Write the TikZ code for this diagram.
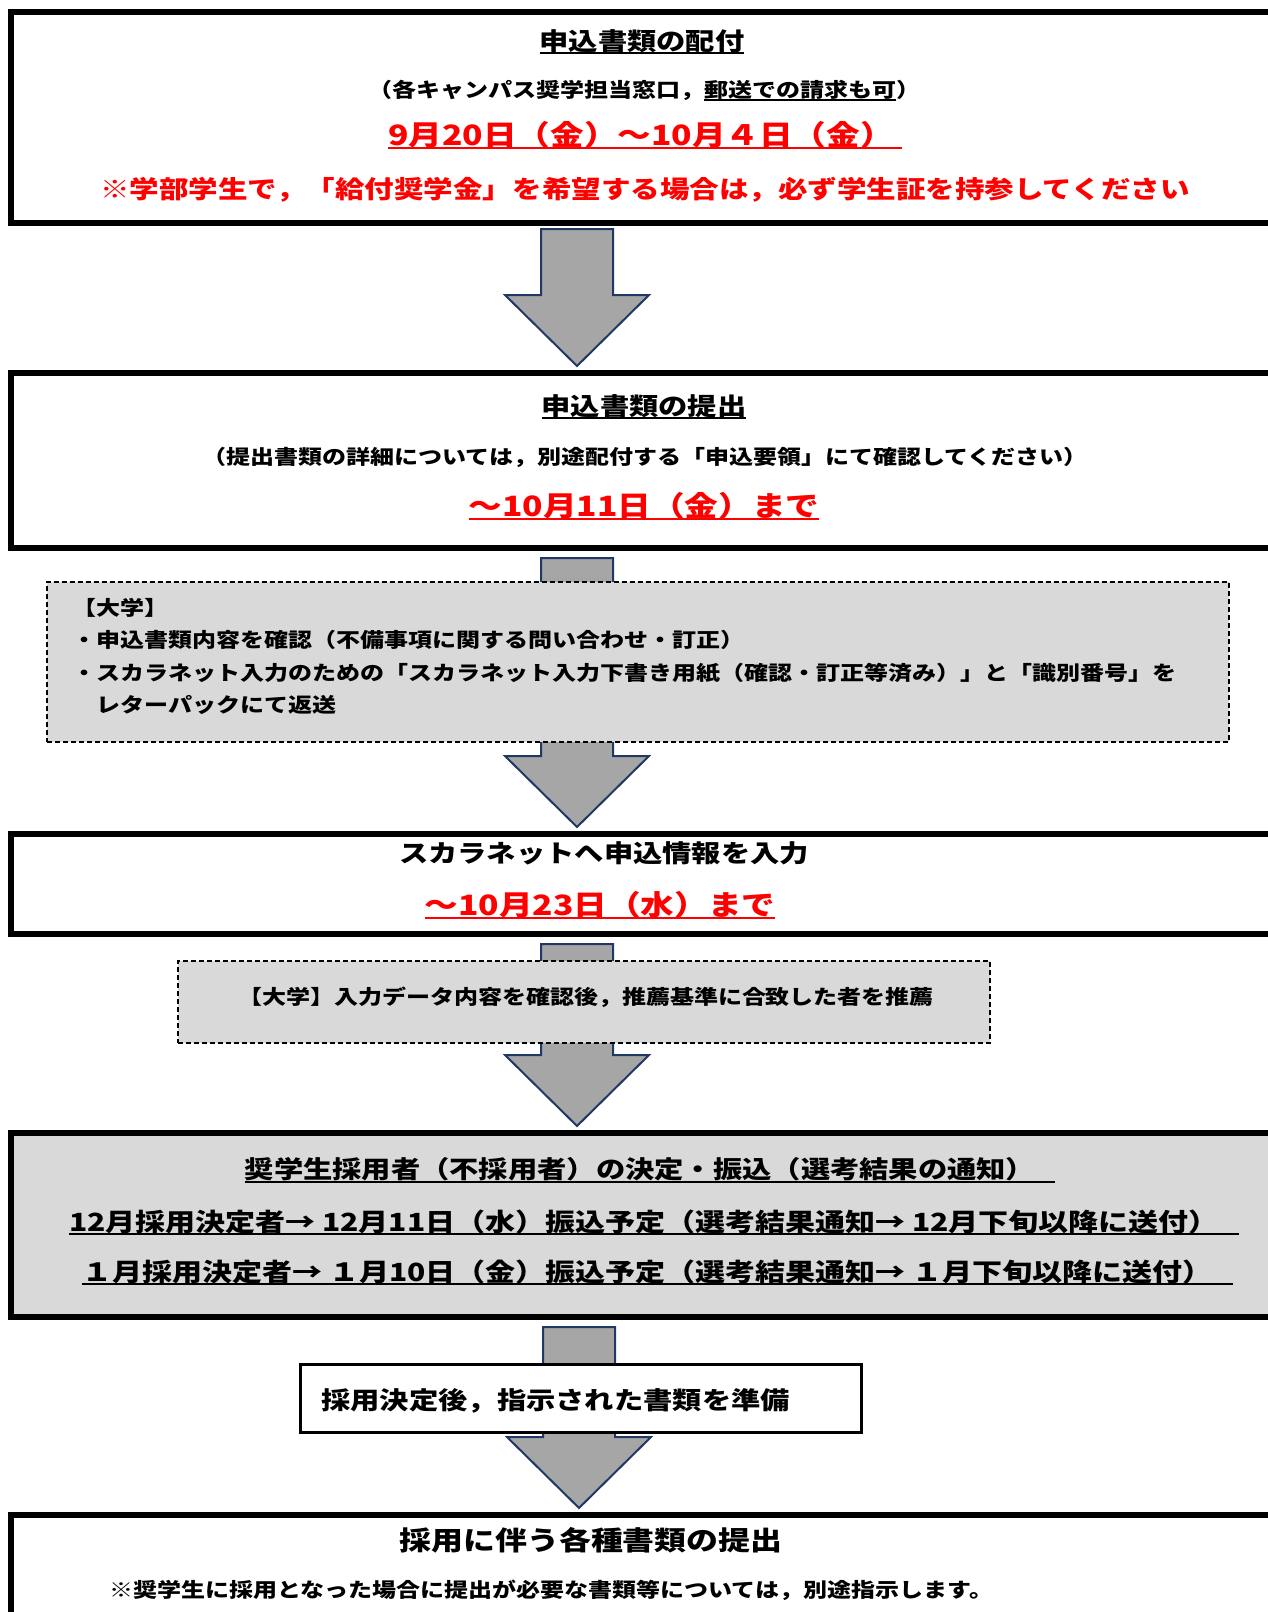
\documentclass[tikz,border=0pt]{standalone}
\usepackage{fontspec}
\setmainfont{Noto Sans CJK JP}[FakeStretch=1.2]
\usetikzlibrary{calc}
\definecolor{arrowgray}{HTML}{A6A6A6}
\definecolor{arrowline}{HTML}{203864}
\definecolor{panelgray}{HTML}{D9D9D9}
\newcommand\ul[2][0pt]{\setbox0\hbox{#2\hspace{#1}}\rlap{\rule[-0.16em]{\wd0}{0.08em}}\box0}
\newcommand\sizeS{\fontsize{10pt}{12pt}\selectfont}
\newcommand\sizeM{\fontsize{12.2pt}{14pt}\selectfont}
\newcommand\sizeR{\fontsize{12.3pt}{14pt}\selectfont}
\newcommand\sizeB{\fontsize{12.5pt}{15pt}\selectfont}
\newcommand\sizeT{\fontsize{13.3pt}{16pt}\selectfont}
\newcommand\sizeL{\fontsize{14pt}{17pt}\selectfont}
\newcommand\flowarrow[4][3.5pt]{\filldraw[blockarrow] let \p1=(#3.south), \p2=(#4.north), \p3=(#2,0) in (\x3-18pt,\y1-#1) -- (\x3+18pt,\y1-#1) -- (\x3+18pt,\y2+37.5pt) -- (\x3+36pt,\y2+37.5pt) -- (\x3,\y2+2pt) -- (\x3-36pt,\y2+37.5pt) -- (\x3-18pt,\y2+37.5pt) -- cycle;}
\begin{document}
\begin{tikzpicture}[x=0.5pt, y=-0.5pt, font=\bfseries, line join=miter,
		mainbox/.style={draw, line width=3pt, fill=white, minimum width=639.5pt, inner sep=0pt},
		notebox/.style={draw, dash pattern=on 2.5pt off 1.5pt, line width=1pt, fill=panelgray, inner sep=0pt},
		smallbox/.style={draw, line width=1.5pt, fill=white, inner sep=0pt},
		blockarrow/.style={draw=arrowline, line width=1pt, fill=arrowgray},
		txt/.style={inner sep=0pt, anchor=base},
		txtl/.style={inner sep=0pt, anchor=base west}]
	\useasboundingbox (0,0) rectangle (1268,1612);
	\clip (0,0) rectangle (1268,1612);
	\node[mainbox, minimum height=105.5pt] (haifu) at (650.5,117.5) {};
	\node[mainbox, minimum height=87.5pt] (teishutsu) at (650.5,460.5) {};
	\node[mainbox, minimum height=50pt] (nyuryoku) at (650.5,884) {};
	\node[mainbox, minimum height=92pt, fill=panelgray] (kettei) at (650.5,1225) {};
	\node[mainbox, minimum height=92.5pt] (shorui) at (650.5,1607.5) {};
	\flowarrow[1.5pt]{577}{haifu}{teishutsu}
	\flowarrow{577}{teishutsu}{nyuryoku}
	\flowarrow{577}{nyuryoku}{kettei}
	\flowarrow{579}{kettei}{shorui}
	\node[notebox, minimum width=591pt, minimum height=80pt] (kakunin) at (638,662) {};
	\node[notebox, minimum width=406pt, minimum height=41pt] (suisen) at (584,1002) {};
	\node[smallbox, minimum width=280.5pt, minimum height=34pt] (junbi) at (580.5,1398) {};
	\node[txt] (haifu-t) at (642,50.5) {\sizeM\ul{申込書類の配付}};
	\node[txt] (haifu-s) at (644,97.6) {\sizeS（各キャンパス奨学担当窓口，\ul{郵送での請求も可}）};
	\node[txt, red] (haifu-d) at (645,145) {\sizeL\ul[4pt]{9月20日（金）～10月４日（金）}};
	\node[txt, red] (haifu-n) at (645,198) {\sizeR※学部学生で，「給付奨学金」を希望する場合は，必ず学生証を持参してください};
	\node[txt] (teishutsu-t) at (644,415) {\sizeM\ul{申込書類の提出}};
	\node[txt] (teishutsu-s) at (645,464.6) {\sizeS（提出書類の詳細については，別途配付する「申込要領」にて確認してください）};
	\node[txt, red] (teishutsu-d) at (644,516) {\sizeL\ul{～10月11日（金）まで}};
	\node[txtl] (kakunin-1) at (72,615.6) {\sizeS【大学】};
	\node[txtl] (kakunin-2) at (72,647.6) {\sizeS・申込書類内容を確認（不備事項に関する問い合わせ・訂正）};
	\node[txtl] (kakunin-3) at (72,680.6) {\sizeS・スカラネット入力のための「スカラネット入力下書き用紙（確認・訂正等済み）」と「識別番号」を};
	\node[txtl] (kakunin-4) at (72,712.6) {\sizeS\phantom{・}レターパックにて返送};
	\node[txt] (nyuryoku-t) at (604,862) {\sizeM スカラネットへ申込情報を入力};
	\node[txt, red] (nyuryoku-d) at (600,915) {\sizeL\ul{～10月23日（水）まで}};
	\node[txt] (suisen-t) at (586,1004.6) {\sizeS【大学】入力データ内容を確認後，推薦基準に合致した者を推薦};
	\node[txt] (kettei-t) at (650,1178.7) {\sizeM\ul[10pt]{奨学生採用者（不採用者）の決定・振込（選考結果の通知）}};
	\node[txt] (kettei-1) at (654,1231) {\sizeB\ul[10pt]{12月採用決定者→ 12月11日（水）振込予定（選考結果通知→ 12月下旬以降に送付）}};
	\node[txt] (kettei-2) at (657.5,1281) {\sizeB\ul[10pt]{１月採用決定者→ １月10日（金）振込予定（選考結果通知→ １月下旬以降に送付）}};
	\node[txtl] (junbi-t) at (321,1409) {\sizeM 採用決定後，指示された書類を準備};
	\node[txt] (shorui-t) at (591,1550) {\sizeT 採用に伴う各種書類の提出};
	\node[txtl] (shorui-n) at (109,1597.6) {\sizeS※奨学生に採用となった場合に提出が必要な書類等については，別途指示します。};
\end{tikzpicture}
\end{document}
